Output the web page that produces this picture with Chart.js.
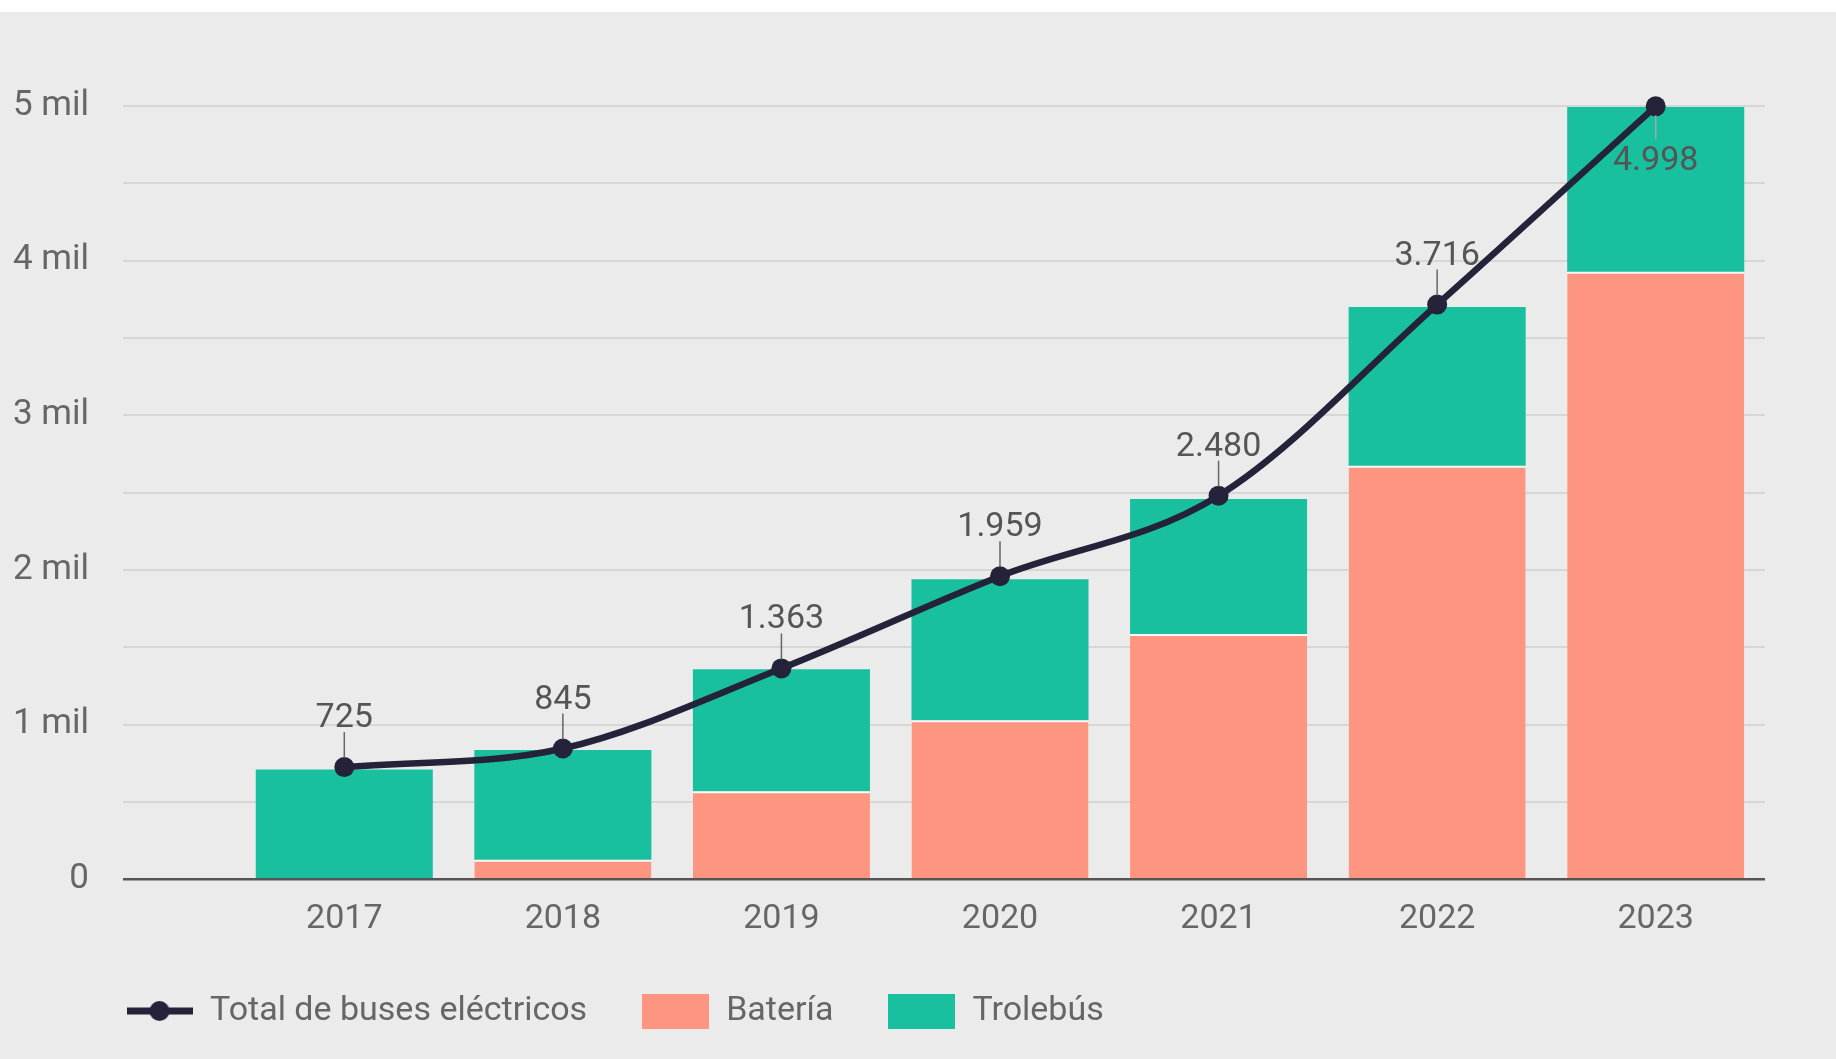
<!DOCTYPE html>
<html>
<head>
<meta charset="utf-8">
<script src="https://cdn.jsdelivr.net/npm/chart.js@4/dist/chart.umd.min.js"></script>
<style>
  html, body { margin: 0; padding: 0; background: #fff; }
  #wrap { position: absolute; left: 0; top: 12px; width: 1836px; height: 1047px; background: #ebebeb; }
</style>
</head>
<body>
<div id="wrap"><canvas id="chart"></canvas></div>
<script>
// datos: buses eléctricos por año
const years = ['2017', '2018', '2019', '2020', '2021', '2022', '2023'];
const totalBuses = [725, 845, 1363, 1959, 2480, 3716, 4998];
const bateria = [0, 125, 569, 1028, 1585, 2674, 3928];
const trolebus = [710, 710, 789, 912, 873, 1026, 1065];
const yTickLabels = ['0', '1 mil', '2 mil', '3 mil', '4 mil', '5 mil'];

const navy = '#24233a';
const salmon = '#fd9580';
const teal = '#18c0a0';
const textGray = '#666666';
const FONT = 'Roboto, "Noto Sans", sans-serif';
const FS = 34;

function fmt(n) {
    return String(n).replace(/\B(?=(\d{3})+(?!\d))/g, '.');
}

// iconos para la leyenda
function lineIcon() {
    const c = document.createElement('canvas');
    c.width = 66; c.height = 22;
    const g = c.getContext('2d');
    g.strokeStyle = navy; g.lineWidth = 7;
    g.beginPath(); g.moveTo(0, 11); g.lineTo(66, 11); g.stroke();
    g.fillStyle = navy;
    g.beginPath(); g.arc(33, 11, 10, 0, Math.PI * 2); g.fill();
    return c;
}
function boxIcon(color) {
    const c = document.createElement('canvas');
    c.width = 67; c.height = 35;
    const g = c.getContext('2d');
    g.fillStyle = color; g.fillRect(0, 0, 67, 35);
    return c;
}

const pointLabels = {
    id: 'pointLabels',
    afterDatasetsDraw(chart) {
        const ctx = chart.ctx;
        const meta = chart.getDatasetMeta(0);
        ctx.save();
        ctx.font = FS + 'px ' + FONT;
        ctx.textAlign = 'center';
        meta.data.forEach((pt, i) => {
            const below = pt.y - chart.chartArea.top < 20;
            ctx.strokeStyle = below ? '#9aa' : '#666';
            ctx.lineWidth = 1.5;
            ctx.beginPath();
            if (below) { ctx.moveTo(pt.x, pt.y + 9); ctx.lineTo(pt.x, pt.y + 33); }
            else { ctx.moveTo(pt.x, pt.y - 9); ctx.lineTo(pt.x, pt.y - 35); }
            ctx.stroke();
            ctx.fillStyle = '#555';
            ctx.textBaseline = 'alphabetic';
            ctx.fillText(fmt(totalBuses[i]), pt.x, below ? pt.y + 64 : pt.y - 40);
        });
        ctx.restore();
    }
};

const legendShift = {
    id: 'legendShift',
    afterLayout(chart) {
        chart.legend.left += 71;
        chart.legend.right += 71;
    }
};

new Chart(document.getElementById('chart'), {
    data: {
        labels: years,
        datasets: [{
            type: 'line',
            label: 'Total de buses eléctricos',
            data: totalBuses,
            borderColor: navy,
            backgroundColor: navy,
            borderWidth: 6.5,
            pointRadius: 10,
            pointBackgroundColor: navy,
            pointBorderWidth: 0,
            cubicInterpolationMode: 'monotone',
            stack: 'total',
            clip: false,
            order: 0
        }, {
            type: 'bar',
            label: 'Batería',
            data: bateria,
            backgroundColor: salmon,
            borderColor: 'rgba(255,255,255,0.75)',
            borderWidth: { top: 2, left: 0, right: 0, bottom: 0 },
            borderSkipped: 'bottom',
            stack: 'bars',
            order: 1
        }, {
            type: 'bar',
            label: 'Trolebús',
            data: trolebus,
            backgroundColor: teal,
            borderWidth: 0,
            stack: 'bars',
            order: 2
        }]
    },
    options: {
        responsive: true,
        maintainAspectRatio: false,
        animation: false,
        layout: { padding: { left: 0, right: 71, top: 94, bottom: 21 } },
        datasets: { bar: { categoryPercentage: 0.81, barPercentage: 1 } },
        scales: {
            x: {
                stacked: true,
                offset: true,
                afterFit(scale) { scale.height -= 21; },
                grid: { display: false, drawTicks: false },
                border: { display: false },
                ticks: { color: textGray, font: { family: FONT, size: FS }, padding: 20 }
            },
            y: {
                stacked: true,
                min: 0,
                max: 5000,
                afterFit(scale) { scale.width = 235; },
                border: { display: false },
                grid: {
                    color: c => (c.tick && c.tick.value === 0) ? '#555' : '#d6d6d6',
                    lineWidth: c => (c.tick && c.tick.value === 0) ? 2.5 : 2,
                    tickLength: 112
                },
                ticks: {
                    stepSize: 500,
                    padding: 34,
                    color: textGray,
                    font: { family: FONT, size: FS + 1 },
                    callback: v => (v % 1000 === 0) ? yTickLabels[v / 1000] : ''
                }
            }
        },
        plugins: {
            tooltip: { enabled: false },
            legend: {
                position: 'bottom',
                align: 'start',
                labels: {
                    usePointStyle: true,
                    pointStyleWidth: 67,
                    padding: 55,
                    color: textGray,
                    font: { family: FONT, size: FS },
                    generateLabels: () => [
                        { text: 'Total de buses eléctricos', pointStyle: lineIcon(), lineWidth: 0, strokeStyle: 'transparent', fillStyle: navy, fontColor: textGray, datasetIndex: 0 },
                        { text: 'Batería', pointStyle: boxIcon(salmon), lineWidth: 0, strokeStyle: 'transparent', fillStyle: salmon, fontColor: textGray, datasetIndex: 1 },
                        { text: 'Trolebús', pointStyle: boxIcon(teal), lineWidth: 0, strokeStyle: 'transparent', fillStyle: teal, fontColor: textGray, datasetIndex: 2 }
                    ]
                }
            }
        }
    },
    plugins: [pointLabels, legendShift]
});
</script>
</body>
</html>
